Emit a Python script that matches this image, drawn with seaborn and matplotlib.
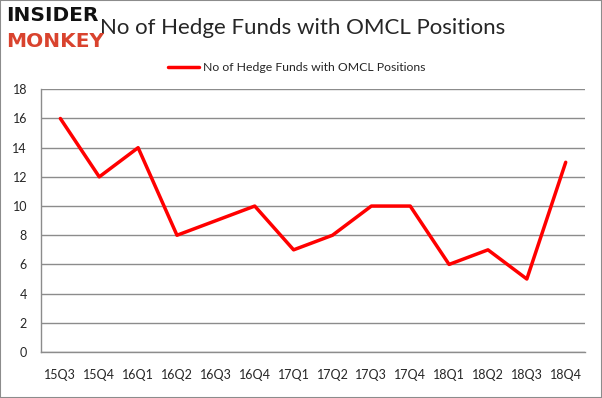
import matplotlib
matplotlib.use("Agg")
import matplotlib.pyplot as plt
import seaborn as sns
import pandas as pd
import numpy as np
from matplotlib.patches import Rectangle

quarters = ["15Q3", "15Q4", "16Q1", "16Q2", "16Q3", "16Q4", "17Q1",
            "17Q2", "17Q3", "17Q4", "18Q1", "18Q2", "18Q3", "18Q4"]
funds = [16, 12, 14, 8, 9, 10, 7, 8, 10, 10, 6, 7, 5, 13]
series_name = "No of Hedge Funds with OMCL Positions"

sns.set_style("white")
plt.rcParams['font.family'] = ['Lato', 'DejaVu Sans']

df = pd.DataFrame({"pos": np.arange(len(quarters)), "funds": funds})

fig = plt.figure(figsize=(6.02, 3.98), dpi=100)
ax = fig.add_axes([0.068, 0.1156, 0.904, 0.660])

sns.lineplot(data=df, x="pos", y="funds", ax=ax, color="#ff0000",
             linewidth=2.5, label=series_name)

ax.set_xlim(-0.5, len(quarters) - 0.5)
ax.set_ylim(0, 18)
ax.set_yticks(range(0, 19, 2))
ax.yaxis.grid(True, color="#8c8c8c", linewidth=1)
ax.set_axisbelow(True)
ax.set_xticks(np.arange(len(quarters)))
ax.set_xticklabels(quarters)
ax.set_xticks(np.arange(-0.5, len(quarters), 1), minor=True)
ax.tick_params(axis="x", which="major", length=0, pad=12, labelsize=9)
ax.tick_params(axis="x", which="minor", length=4, color="#8c8c8c", width=1)
ax.tick_params(axis="y", length=4, color="#8c8c8c", width=1, labelsize=9, pad=6)
ax.set_xlabel("")
ax.set_ylabel("")
for s in ["top", "right"]:
    ax.spines[s].set_visible(False)
for s in ["left", "bottom"]:
    ax.spines[s].set_color("#8c8c8c")
    ax.spines[s].set_linewidth(1)

ax.legend(loc="lower center", bbox_to_anchor=(0.47, 1.02), frameon=False,
          fontsize=8.8, handlelength=2.5, handletextpad=0.3)

fig.text(0.502, 0.93, series_name, ha="center", va="center", fontsize=16)
fig.text(0.01, 0.962, "INSIDER", ha="left", va="center", fontsize=14.5,
         fontweight="heavy", color="#111111", family=["DejaVu Sans"])
fig.text(0.01, 0.895, "MONKEY", ha="left", va="center", fontsize=14.5,
         fontweight="heavy", color="#d9432e", family=["DejaVu Sans"])

fig.patches.append(Rectangle((0, 0), 1, 1, transform=fig.transFigure,
                             fill=False, edgecolor="#8c8c8c", linewidth=1.5))

fig.savefig("out.png", dpi=100)
